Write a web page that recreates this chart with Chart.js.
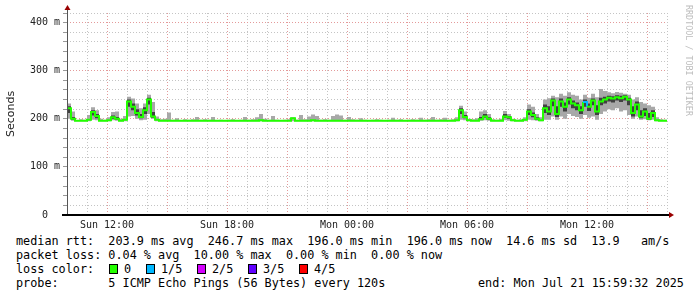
<!DOCTYPE html>
<html>
<head>
<meta charset="utf-8">
<script src="https://cdn.jsdelivr.net/npm/chart.js@4.4.1/dist/chart.umd.min.js"></script>
<style>
body { margin: 0; background: #fff; }
#wrap { position: relative; width: 697px; height: 297px; background: #fff; font-family: 'DejaVu Sans Mono', monospace; font-size: 11.8px; color: #000; overflow: hidden; }
#mychart { position: absolute; left: 0; top: 0; }
.line { position: absolute; left: 16px; white-space: pre; line-height: 14px; }
.lbl { position: absolute; white-space: pre; line-height: 14px; }
.sq { position: absolute; top: 264px; width: 9px; height: 10px; border: 1px solid #000; box-sizing: border-box; }
#credit { position: absolute; left: 684px; top: 5px; writing-mode: vertical-rl; font-size: 8.4px; color: #bdbdbd; white-space: pre; }
</style>
</head>
<body>
<div id="wrap">
  <canvas id="mychart" width="697" height="230"></canvas>
  <div id="credit">RRDTOOL / TOBI OETIKER</div>
  <div class="line" style="top:234px">median rtt:  203.9 ms avg  246.7 ms max  196.0 ms min  196.0 ms now  14.6 ms sd  13.9   am/s</div>
  <div class="line" style="top:248px">packet loss: 0.04 % avg  10.00 % max  0.00 % min  0.00 % now</div>
  <div class="line" style="top:262px">loss color:</div>
  <div id="losslegend"></div>
  <div class="line" style="top:276px">probe:       5 ICMP Echo Pings (56 Bytes) every 120s</div>
  <div class="lbl" style="top:276px; left:478px">end: Mon Jul 21 15:59:32 2025</div>
</div>
<script>
// one sample every 0.2 h (12 min), starting Sun 10:00
const stepHours = 0.2

// median rtt in ms
const medianMs = [
  222, 200, 196, 196, 196, 198, 214, 206, 196, 196,
  197, 203, 200, 196, 198, 236, 225, 212, 204, 218,
  240, 205, 198, 196, 196, 196, 196, 196, 196, 196,
  196, 196, 196, 196, 196, 196, 196, 196, 196, 196,
  196, 196, 196, 196, 196, 196, 196, 196, 197, 196,
  196, 196, 196, 196, 196, 196, 201, 196, 196, 196,
  196, 197, 196, 196, 196, 196, 196, 196, 196, 196,
  196, 196, 196, 196, 196, 196, 196, 196, 196, 196,
  196, 196, 196, 196, 196, 196, 196, 196, 196, 196,
  196, 196, 196, 196, 196, 196, 196, 197, 218, 204,
  197, 196, 196, 199, 205, 200, 196, 196, 196, 205,
  203, 197, 196, 196, 198, 215, 208, 200, 197, 222,
  215, 238, 210, 236, 225, 240, 232, 228, 218, 235,
  225, 238, 215, 236, 240, 244, 242, 245, 243, 246,
  240, 212, 230, 205, 215, 200, 212, 197, 196, 196,
  196
]

// smoke, max and min of the pings
const smokeHi = [
  232, 215, 197, 199, 198, 208, 224, 218, 200, 198,
  203, 214, 215, 200, 206, 246, 242, 232, 222, 232,
  250, 235, 205, 199, 200, 213, 198, 201, 197, 199,
  198, 199, 204, 198, 199, 198, 204, 197, 198, 197,
  198, 199, 197, 198, 204, 198, 199, 203, 210, 200,
  198, 206, 198, 197, 198, 199, 203, 198, 208, 199,
  205, 209, 206, 198, 199, 198, 206, 209, 207, 198,
  204, 199, 198, 201, 198, 197, 198, 199, 198, 197,
  198, 202, 198, 199, 197, 198, 199, 198, 202, 198,
  199, 204, 198, 199, 202, 198, 199, 203, 227, 215,
  200, 199, 201, 215, 218, 210, 199, 198, 200, 216,
  210, 200, 198, 199, 203, 230, 225, 210, 203, 240,
  243, 248, 245, 252, 248, 255, 250, 248, 240, 250,
  244, 252, 245, 262, 258, 255, 253, 256, 254, 252,
  250, 240, 245, 235, 232, 228, 225, 203, 199, 198,
  198
]
const smokeLo = [
  200, 196, 195, 195, 195, 195, 198, 197, 195, 195,
  195, 197, 196, 195, 195, 205, 206, 200, 197, 198,
  210, 200, 195, 195, 195, 195, 195, 195, 195, 195,
  195, 195, 195, 195, 195, 195, 195, 195, 195, 195,
  195, 195, 195, 195, 195, 195, 195, 195, 195, 195,
  195, 195, 195, 195, 195, 195, 195, 195, 195, 195,
  195, 195, 195, 195, 195, 195, 195, 195, 195, 195,
  195, 195, 195, 195, 195, 195, 195, 195, 195, 195,
  195, 195, 195, 195, 195, 195, 195, 195, 195, 195,
  195, 195, 195, 195, 195, 195, 195, 195, 198, 197,
  195, 195, 195, 196, 197, 196, 195, 195, 195, 197,
  196, 195, 195, 195, 195, 198, 197, 196, 195, 198,
  198, 205, 198, 205, 200, 210, 206, 204, 200, 208,
  202, 205, 198, 210, 215, 220, 218, 222, 215, 218,
  208, 200, 205, 198, 199, 197, 198, 195, 195, 195,
  195
]

// dense (dark) part of the smoke, close to the median
const darkHi = [
  226, 204, 196, 196, 196, 196, 218, 210, 196, 196,
  196, 207, 204, 196, 196, 240, 232, 220, 210, 224,
  244, 214, 196, 196, 196, 196, 196, 196, 196, 196,
  196, 196, 196, 196, 196, 196, 196, 196, 196, 196,
  196, 196, 196, 196, 196, 196, 196, 196, 196, 196,
  196, 196, 196, 196, 196, 196, 196, 196, 196, 196,
  196, 196, 196, 196, 196, 196, 196, 196, 196, 196,
  196, 196, 196, 196, 196, 196, 196, 196, 196, 196,
  196, 196, 196, 196, 196, 196, 196, 196, 196, 196,
  196, 196, 196, 196, 196, 196, 196, 196, 222, 208,
  196, 196, 196, 204, 210, 203, 196, 196, 196, 210,
  206, 196, 196, 196, 196, 220, 213, 203, 196, 230,
  226, 242, 226, 242, 234, 245, 238, 234, 226, 240,
  232, 242, 228, 244, 246, 248, 247, 249, 248, 249,
  244, 226, 236, 218, 222, 212, 218, 196, 196, 196,
  196
]
const darkLo = [
  212, 198, 196, 196, 196, 196, 207, 201, 196, 196,
  196, 200, 198, 196, 196, 225, 218, 207, 201, 210,
  230, 202, 196, 196, 196, 196, 196, 196, 196, 196,
  196, 196, 196, 196, 196, 196, 196, 196, 196, 196,
  196, 196, 196, 196, 196, 196, 196, 196, 196, 196,
  196, 196, 196, 196, 196, 196, 196, 196, 196, 196,
  196, 196, 196, 196, 196, 196, 196, 196, 196, 196,
  196, 196, 196, 196, 196, 196, 196, 196, 196, 196,
  196, 196, 196, 196, 196, 196, 196, 196, 196, 196,
  196, 196, 196, 196, 196, 196, 196, 196, 210, 201,
  196, 196, 196, 198, 202, 198, 196, 196, 196, 202,
  200, 196, 196, 196, 196, 208, 203, 198, 196, 212,
  208, 226, 204, 225, 215, 230, 222, 218, 210, 225,
  216, 228, 208, 228, 232, 236, 234, 238, 235, 238,
  228, 205, 218, 201, 206, 198, 204, 196, 196, 196,
  196
]

// samples with packet loss (index into the arrays above) and their loss level
const lossSamples = [129]
const lossLevels = [1]

const lossNames = ['0', '1/5', '2/5', '3/5', '4/5']
const lossColors = ['#22ff00', '#00b8ff', '#d400ff', '#6000ff', '#ff0000']

// axis ticks
const xTickHours = [2, 8, 14, 20, 26]
const xTickLabels = ['Sun 12:00', 'Sun 18:00', 'Mon 00:00', 'Mon 06:00', 'Mon 12:00']
const yTickValues = [0, 100, 200, 300, 400]
const yTickLabels = ['0  ', '100 m', '200 m', '300 m', '400 m']

function toPoints(arr) {
    return arr.map((v, i) => ({ x: i * stepHours, y: v }))
}

function segColor(i) {
    const k = lossSamples.indexOf(i)
    return k >= 0 ? lossColors[lossLevels[k]] : lossColors[0]
}

// loss color legend boxes
const lossPosBox = [109, 146, 197, 248, 299]
const lossPosTxt = [124, 161, 212, 263, 314]
const lossDiv = document.getElementById('losslegend')
lossNames.forEach((name, i) => {
    const sq = document.createElement('div')
    sq.className = 'sq'
    sq.style.left = lossPosBox[i] + 'px'
    sq.style.background = lossColors[i]
    lossDiv.appendChild(sq)
    const t = document.createElement('div')
    t.className = 'lbl'
    t.style.top = '262px'
    t.style.left = lossPosTxt[i] + 'px'
    t.textContent = name
    lossDiv.appendChild(t)
})

const axesPlugin = {
    id: 'rrdaxes',
    afterDraw(chart) {
        const { ctx, chartArea } = chart
        const { left, right, top, bottom } = chartArea
        ctx.save()
        // y axis
        ctx.strokeStyle = '#555'
        ctx.lineWidth = 1
        ctx.beginPath()
        ctx.moveTo(Math.round(left) + 0.5, bottom)
        ctx.lineTo(Math.round(left) + 0.5, top - 4)
        ctx.stroke()
        // x axis
        ctx.strokeStyle = '#000'
        ctx.lineWidth = 2
        ctx.beginPath()
        ctx.moveTo(left - 5, Math.round(bottom))
        ctx.lineTo(right + 3, Math.round(bottom))
        ctx.stroke()
        // arrows
        ctx.fillStyle = '#990000'
        const ax = Math.round(left) + 0.5
        ctx.beginPath()
        ctx.moveTo(ax - 3, top - 3)
        ctx.lineTo(ax + 3, top - 3)
        ctx.lineTo(ax, top - 8)
        ctx.closePath()
        ctx.fill()
        const ay = Math.round(bottom)
        ctx.beginPath()
        ctx.moveTo(right + 2, ay - 3)
        ctx.lineTo(right + 2, ay + 3)
        ctx.lineTo(right + 7, ay)
        ctx.closePath()
        ctx.fill()
        ctx.restore()
    }
}

var myChart = new Chart(document.getElementById('mychart'), {
    type: 'line',
    data: {
        datasets: [{
            label: 'smoke max',
            data: toPoints(smokeHi),
            fill: 1,
            backgroundColor: '#a8a8a8',
            borderColor: 'rgba(0,0,0,0)',
            borderWidth: 1,
            pointRadius: 0,
            stepped: true,
            order: 5
        }, {
            label: 'smoke min',
            data: toPoints(smokeLo),
            fill: false,
            borderColor: 'rgba(0,0,0,0)',
            borderWidth: 1,
            pointRadius: 0,
            stepped: true,
            order: 5
        }, {
            label: 'dense high',
            data: toPoints(darkHi),
            fill: 3,
            backgroundColor: '#404040',
            borderColor: 'rgba(0,0,0,0)',
            borderWidth: 1,
            pointRadius: 0,
            stepped: true,
            order: 3
        }, {
            label: 'dense low',
            data: toPoints(darkLo),
            fill: false,
            borderColor: 'rgba(0,0,0,0)',
            borderWidth: 1,
            pointRadius: 0,
            stepped: true,
            order: 3
        }, {
            label: 'median rtt',
            data: toPoints(medianMs),
            fill: false,
            borderColor: lossColors[0],
            borderWidth: 2,
            pointRadius: 0,
            stepped: true,
            segment: {
                borderColor: c => segColor(c.p0DataIndex)
            },
            order: 0
        }]
    },
    options: {
        responsive: false,
        animation: false,
        events: [],
        layout: { padding: { top: 13, right: 30, left: 0, bottom: 0 } },
        plugins: {
            legend: { display: false },
            tooltip: { enabled: false }
        },
        scales: {
            x: {
                type: 'linear',
                min: 0,
                max: 30,
                afterFit: scale => { scale.height = 15 },
                ticks: {
                    stepSize: 1,
                    autoSkip: false,
                    maxRotation: 0,
                    padding: 4,
                    color: '#222',
                    font: { family: 'DejaVu Sans Mono', size: 10 },
                    callback: v => {
                        const k = xTickHours.indexOf(v)
                        return k >= 0 ? xTickLabels[k] : ''
                    }
                },
                grid: {
                    drawTicks: false,
                    color: c => ((c.tick.value - 2) % 3 === 0 ? '#e39a9a' : '#c4c4c4')
                },
                border: { display: false, dash: [1, 2] }
            },
            y: {
                min: 0,
                max: 420,
                afterFit: scale => { scale.width = 67 },
                title: {
                    display: true,
                    text: 'Seconds',
                    color: '#222',
                    font: { family: 'DejaVu Sans', size: 11 },
                    padding: { top: 5, bottom: 0 }
                },
                ticks: {
                    stepSize: 20,
                    autoSkip: false,
                    padding: 3,
                    color: '#222',
                    font: { family: 'DejaVu Sans Mono', size: 10 },
                    callback: v => {
                        const k = yTickValues.indexOf(v)
                        return k >= 0 ? yTickLabels[k] : ''
                    }
                },
                grid: {
                    tickLength: 4,
                    tickColor: '#999',
                    color: c => (c.tick.value % 100 === 0 && c.tick.value > 0 ? '#e39a9a' : '#c4c4c4')
                },
                border: { display: false, dash: [1, 2] }
            }
        }
    },
    plugins: [axesPlugin]
});
</script>
</body>
</html>
